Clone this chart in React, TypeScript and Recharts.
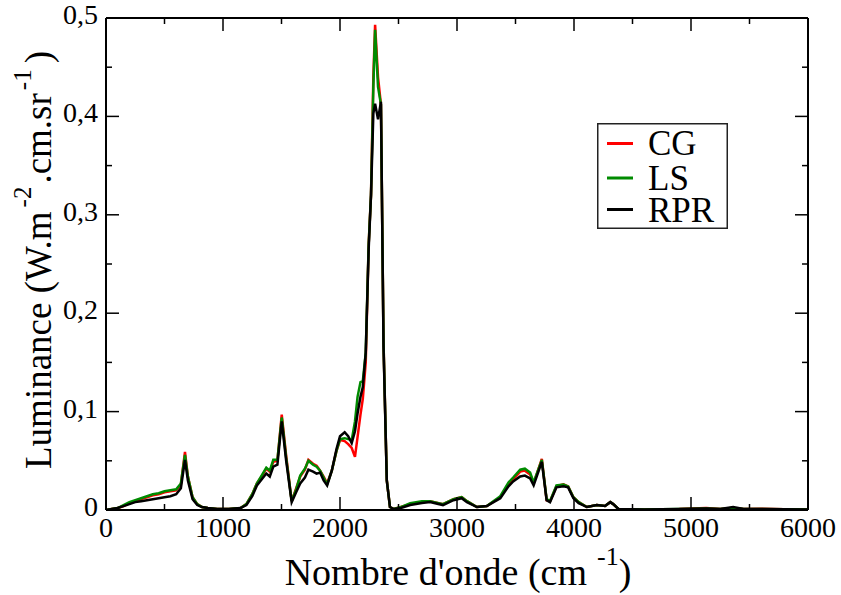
import { LineChart, Line, XAxis, YAxis, Legend } from 'recharts';

// wavenumber (cm-1) and the three luminance spectra
const WAVENUMBERS = [
  0, 50, 100, 150, 200, 250, 300, 350, 400, 450, 500, 550, 600, 640, 675, 700, 740, 780, 820, 870, 950, 1050, 1150,
  1200, 1250, 1290, 1330, 1370, 1400, 1430, 1465, 1502, 1540,
  1587, 1625, 1660, 1700, 1730, 1770, 1800, 1830, 1860, 1890,
  1930, 1970, 2000, 2040, 2070, 2100, 2128, 2150, 2175, 2195,
  2220, 2245, 2265, 2285, 2300, 2325, 2350, 2372, 2400, 2427, 2460,
  2520, 2600, 2700, 2770, 2880, 2970, 3040, 3085, 3170, 3255,
  3370, 3440, 3480, 3540, 3580, 3625, 3655, 3725, 3766, 3795,
  3850, 3910, 3950, 3995, 4040, 4110, 4195, 4265, 4310, 4335,
  4380, 4600, 4900, 5130, 5250, 5360, 5450, 5600, 5800, 6000,
];

const CG = [
  0, 0.001, 0.002, 0.004, 0.007, 0.009, 0.011, 0.013, 0.015, 0.016, 0.018, 0.019, 0.02, 0.026, 0.059, 0.034, 0.013, 0.006, 0.003, 0.002, 0.001, 0.001, 0.002,
  0.006, 0.016, 0.027, 0.034, 0.042, 0.039, 0.049, 0.05, 0.097, 0.055,
  0.009, 0.022, 0.034, 0.041, 0.051, 0.047, 0.045, 0.04, 0.034, 0.027,
  0.04, 0.06, 0.071, 0.07, 0.067, 0.063, 0.054, 0.074, 0.097, 0.113,
  0.15, 0.27, 0.32, 0.44, 0.493, 0.44, 0.412, 0.17, 0.03, 0.003, 0.001,
  0.003, 0.006, 0.008, 0.009, 0.006, 0.011, 0.013, 0.009, 0.003, 0.004,
  0.013, 0.026, 0.031, 0.039, 0.04, 0.036, 0.027, 0.052, 0.01, 0.009,
  0.024, 0.026, 0.024, 0.013, 0.008, 0.003, 0.005, 0.004, 0.008, 0.006,
  0.001, 0.0005, 0.001, 0.002, 0.001, 0.002, 0.001, 0.0012, 0.0008, 0.0005,
];

const LS = [
  0, 0.001, 0.002, 0.005, 0.008, 0.01, 0.012, 0.014, 0.016, 0.017, 0.019, 0.02, 0.021, 0.027, 0.056, 0.034, 0.013, 0.006, 0.003, 0.002, 0.001, 0.001, 0.002,
  0.006, 0.016, 0.027, 0.035, 0.043, 0.04, 0.051, 0.051, 0.094, 0.053,
  0.009, 0.021, 0.035, 0.042, 0.05, 0.046, 0.044, 0.04, 0.033, 0.026,
  0.04, 0.06, 0.072, 0.073, 0.072, 0.071, 0.09, 0.115, 0.13, 0.131,
  0.16, 0.27, 0.32, 0.43, 0.488, 0.43, 0.412, 0.17, 0.03, 0.003, 0.001,
  0.003, 0.007, 0.009, 0.009, 0.006, 0.011, 0.013, 0.009, 0.003, 0.004,
  0.014, 0.028, 0.033, 0.041, 0.042, 0.038, 0.028, 0.051, 0.011, 0.009,
  0.025, 0.026, 0.024, 0.013, 0.008, 0.003, 0.005, 0.004, 0.008, 0.006,
  0.001, 0.0005, 0.001, 0.0015, 0.001, 0.002, 0.001, 0.001, 0.0008, 0.0005,
];

const RPR = [
  0, 0.001, 0.002, 0.004, 0.006, 0.008, 0.009, 0.01, 0.011, 0.012, 0.013, 0.014, 0.016, 0.022, 0.051, 0.03, 0.011, 0.005, 0.003, 0.002, 0.001, 0.001, 0.002,
  0.005, 0.014, 0.025, 0.031, 0.037, 0.034, 0.044, 0.046, 0.09, 0.05,
  0.008, 0.018, 0.027, 0.033, 0.041, 0.039, 0.037, 0.038, 0.03, 0.025,
  0.04, 0.062, 0.075, 0.079, 0.075, 0.068, 0.08, 0.098, 0.115, 0.125,
  0.16, 0.265, 0.32, 0.403, 0.413, 0.397, 0.415, 0.166, 0.03, 0.003, 0.001,
  0.002, 0.005, 0.007, 0.008, 0.005, 0.01, 0.012, 0.008, 0.003, 0.004,
  0.012, 0.024, 0.029, 0.034, 0.035, 0.032, 0.025, 0.049, 0.01, 0.008,
  0.023, 0.024, 0.023, 0.012, 0.007, 0.003, 0.005, 0.004, 0.008, 0.006,
  0.001, 0.0005, 0.001, 0.0015, 0.001, 0.003, 0.001, 0.001, 0.0008, 0.0005,
];

const X_TICKS = [0, 500, 1000, 1500, 2000, 2500, 3000, 3500, 4000, 4500, 5000, 5500, 6000];
const Y_TICKS = [0, 0.05, 0.1, 0.15, 0.2, 0.25, 0.3, 0.35, 0.4, 0.45, 0.5];

const SERIES = [
  { key: 'cg', name: 'CG', color: '#ff0000' },
  { key: 'ls', name: 'LS', color: '#008b00' },
  { key: 'rpr', name: 'RPR', color: '#000000' },
];

const SERIF = { fontFamily: '"Liberation Serif", "Times New Roman", "DejaVu Serif", serif' };

const data = WAVENUMBERS.map((x, i) => ({ x, cg: CG[i], ls: LS[i], rpr: RPR[i] }));

const isMajorX = (v: number) => v % 1000 === 0;
const isMajorY = (v: number) => Math.round(v * 100) % 10 === 0;
const fmtY = (v: number) => (v === 0 ? '0' : v.toFixed(1).replace('.', ','));

const MAJOR = 13;
const MINOR = 6;

function BottomTick({ x, y, payload }: any) {
  const major = isMajorX(payload.value);
  return (
    <g>
      <line x1={x} y1={y} x2={x} y2={y - (major ? MAJOR : MINOR)} stroke="#000" strokeWidth={1.5} />
      {major && (
        <text x={x} y={y + 27} textAnchor="middle" fontSize={28} style={SERIF} fill="#000">
          {payload.value}
        </text>
      )}
    </g>
  );
}

function TopTick({ x, y, payload }: any) {
  const major = isMajorX(payload.value);
  return <line x1={x} y1={y} x2={x} y2={y + (major ? MAJOR : MINOR)} stroke="#000" strokeWidth={1.5} />;
}

function LeftTick({ x, y, payload }: any) {
  const major = isMajorY(payload.value);
  return (
    <g>
      <line x1={x} y1={y} x2={x + (major ? MAJOR : MINOR)} y2={y} stroke="#000" strokeWidth={1.5} />
      {major && (
        <text x={x - 8} y={y + 6} textAnchor="end" fontSize={28} style={SERIF} fill="#000">
          {fmtY(payload.value)}
        </text>
      )}
    </g>
  );
}

function RightTick({ x, y, payload }: any) {
  const major = isMajorY(payload.value);
  return <line x1={x} y1={y} x2={x - (major ? MAJOR : MINOR)} y2={y} stroke="#000" strokeWidth={1.5} />;
}

function XTitle() {
  return (
    <text x={458} y={585} textAnchor="middle" fontSize={38} style={SERIF} fill="#000">
      {"Nombre d'onde (cm"}
      <tspan dx={10} dy={-20} fontSize={26}>-1</tspan>
      <tspan dy={20} fontSize={38}>)</tspan>
    </text>
  );
}

function YTitle() {
  return (
    <text transform="rotate(-90)" x={-260} y={51} textAnchor="middle" fontSize={37} style={SERIF} fill="#000">
      Luminance (W.m
      <tspan dx={4} dy={-20} fontSize={25}>-2</tspan>
      <tspan dx={3} dy={20} fontSize={37}>.cm.sr</tspan>
      <tspan dx={3} dy={-20} fontSize={25}>-1</tspan>
      <tspan dx={6} dy={20} fontSize={37}>)</tspan>
    </text>
  );
}

function LegendBox() {
  const rows = [20.5, 55, 86.5];
  const base = [32, 66.5, 98.5];
  return (
    <svg width={131} height={106} style={{ display: 'block' }}>
      <rect x={0.75} y={0.75} width={129.5} height={104.5} fill="#fff" stroke="#222" strokeWidth={1.5} />
      {SERIES.map((s, i) => (
        <g key={s.key}>
          <line x1={10} x2={36} y1={rows[i]} y2={rows[i]} stroke={s.color} strokeWidth={3} />
          <text x={51} y={base[i]} fontSize={35} style={SERIF} fill="#000">
            {s.name}
          </text>
        </g>
      ))}
    </svg>
  );
}

const axisLine = { stroke: '#000', strokeWidth: 2 };

export default function App() {
  return (
    <div style={{ position: 'absolute', left: 0, top: 0, background: '#fff' }}>
      <LineChart width={841} height={595} data={data} margin={{ top: 0, right: 0, bottom: 0, left: 0 }}>
        <XAxis
          xAxisId="bottom"
          dataKey="x"
          type="number"
          domain={[0, 6000]}
          allowDataOverflow
          ticks={X_TICKS}
          interval={0}
          height={85}
          tickSize={0}
          tickMargin={0}
          tickLine={false}
          axisLine={axisLine}
          tick={<BottomTick />}
          label={<XTitle />}
        />
        <XAxis
          xAxisId="top"
          orientation="top"
          dataKey="x"
          type="number"
          domain={[0, 6000]}
          allowDataOverflow
          ticks={X_TICKS}
          interval={0}
          height={18}
          tickSize={0}
          tickMargin={0}
          tickLine={false}
          axisLine={axisLine}
          tick={<TopTick />}
        />
        <YAxis
          yAxisId="left"
          type="number"
          domain={[0, 0.5]}
          allowDataOverflow
          ticks={Y_TICKS}
          interval={0}
          width={106}
          tickSize={0}
          tickMargin={0}
          tickLine={false}
          axisLine={axisLine}
          tick={<LeftTick />}
          label={<YTitle />}
        />
        <YAxis
          yAxisId="right"
          orientation="right"
          type="number"
          domain={[0, 0.5]}
          allowDataOverflow
          ticks={Y_TICKS}
          interval={0}
          width={33}
          tickSize={0}
          tickMargin={0}
          tickLine={false}
          axisLine={axisLine}
          tick={<RightTick />}
        />
        {SERIES.map((s) => (
          <Line
            key={s.key}
            xAxisId="bottom"
            yAxisId="left"
            type="linear"
            dataKey={s.key}
            name={s.name}
            stroke={s.color}
            strokeWidth={2.5}
            dot={false}
            activeDot={false}
            isAnimationActive={false}
          />
        ))}
        <Legend
          layout="vertical"
          align="center"
          verticalAlign="middle"
          wrapperStyle={{ position: 'absolute', left: 597, top: 123, width: 131, height: 106 }}
          content={() => <LegendBox />}
        />
      </LineChart>
    </div>
  );
}
